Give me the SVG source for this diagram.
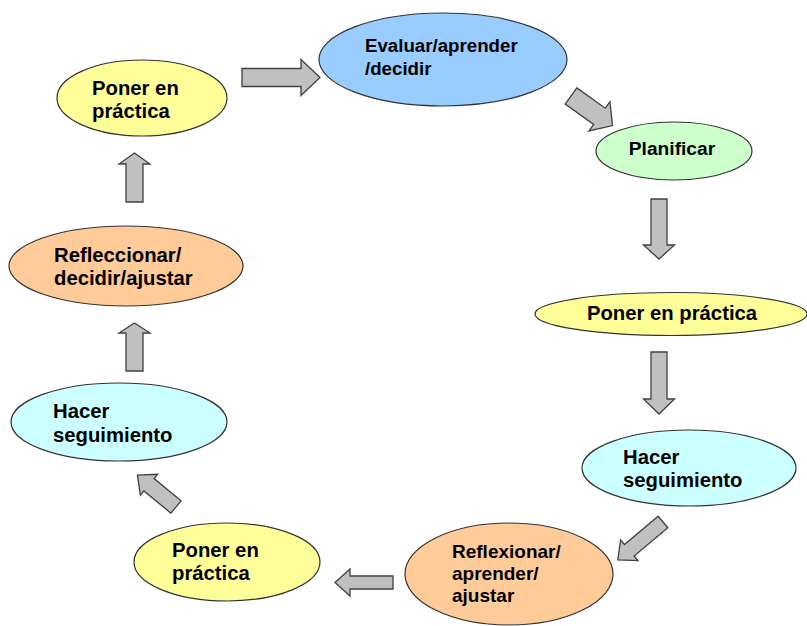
<svg xmlns="http://www.w3.org/2000/svg" width="807" height="626" viewBox="0 0 807 626">
<style>
.n{stroke:#333;stroke-width:1.2}
.y{fill:#FFFF99}.b{fill:#99CCFF}.g{fill:#CCFFCC}.c{fill:#CCFFFF}.o{fill:#FFCC99}
text{font-family:"Liberation Sans",Arial,sans-serif;font-weight:bold;font-size:20.3px;fill:#000}
.s1{font-size:18.7px}.s2{font-size:19.2px}.s3{font-size:19px}
.ar{fill:#C0C0C0;stroke:#404040;stroke-width:1.3;stroke-linejoin:miter}
</style>
<rect width="807" height="626" fill="#fff"/>
<g id="connectors">
<path class="ar" transform="translate(242,77.5)" d="M0,-9H59V-18L78,0L59,18V9H0Z"/>
<path class="ar" transform="translate(571,96) rotate(35.5)" d="M0,-10H35V-18L51,0L35,18V10H0Z"/>
<path class="ar" transform="translate(659,199) rotate(90)" d="M0,-8H46V-15.5L60,0L46,15.5V8H0Z"/>
<path class="ar" transform="translate(659,352) rotate(90)" d="M0,-8H47V-15.5L62,0L47,15.5V8H0Z"/>
<path class="ar" transform="translate(663,522) rotate(140)" d="M0,-7.5H44V-13.5L59,0L44,13.5V7.5H0Z"/>
<path class="ar" transform="translate(393,582.5) rotate(180)" d="M0,-6.5H43V-13.5L58,0L43,13.5V6.5H0Z"/>
<path class="ar" transform="translate(176,507) rotate(219.5)" d="M0,-8H35V-13.5L50,0L35,13.5V8H0Z"/>
<path class="ar" transform="translate(134.5,371) rotate(-90)" d="M0,-8.5H38V-15.5L48,0L38,15.5V8.5H0Z"/>
<path class="ar" transform="translate(134.5,202) rotate(-90)" d="M0,-8.5H38V-15.5L49,0L38,15.5V8.5H0Z"/>
</g>
<g id="n1"><ellipse class="n y" cx="142" cy="98" rx="85" ry="38"/><text x="92" y="95">Poner en</text><text x="92" y="118">práctica</text></g>
<g id="n2"><ellipse class="n b" cx="443" cy="59.5" rx="124" ry="46.5"/><text class="s1" x="365" y="52">Evaluar/aprender</text><text class="s1" x="365" y="75">/decidir</text></g>
<g id="n3"><ellipse class="n g" cx="674" cy="151" rx="78" ry="29"/><text class="s2" x="672" y="155" text-anchor="middle">Planificar</text></g>
<g id="n4"><ellipse class="n y" cx="671" cy="314" rx="136" ry="21.5"/><text x="672" y="320" text-anchor="middle">Poner en práctica</text></g>
<g id="n5"><ellipse class="n c" cx="689" cy="468" rx="107" ry="38"/><text x="623" y="464">Hacer</text><text x="623" y="487">seguimiento</text></g>
<g id="n6"><ellipse class="n o" cx="509" cy="574" rx="104" ry="51"/><text class="s3" x="452" y="558">Reflexionar/</text><text class="s3" x="452" y="580">aprender/</text><text class="s3" x="452" y="602">ajustar</text></g>
<g id="n7"><ellipse class="n y" cx="227" cy="562" rx="93" ry="39"/><text x="172" y="557">Poner en</text><text x="172" y="580">práctica</text></g>
<g id="n8"><ellipse class="n c" cx="119" cy="422" rx="108" ry="39"/><text x="53" y="418">Hacer</text><text x="53" y="442">seguimiento</text></g>
<g id="n9"><ellipse class="n o" cx="126" cy="266" rx="117" ry="40"/><text x="54" y="262">Refleccionar/</text><text x="54" y="285">decidir/ajustar</text></g>
</svg>
